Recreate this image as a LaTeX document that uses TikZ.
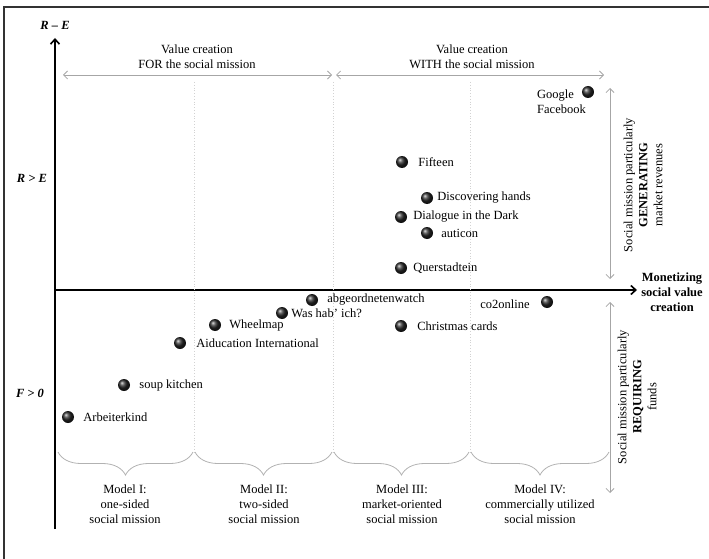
\documentclass[tikz,border=0pt]{standalone}
\usepackage{fontspec}
\setmainfont{Liberation Serif}
\usetikzlibrary{arrows.meta,positioning,decorations.pathreplacing}
\tikzset{
	firm/.style={
		circle,
		inner sep=0pt,
		minimum size=12pt,
		shading=ball,
		ball color=black!85,
	},
	firmlabel/.style={inner sep=0pt, text=black, font=\fontsize{12.5}{15}\selectfont},
	headtext/.style={align=center, inner sep=0pt, text=black, font=\fontsize{12.5}{15}\selectfont},
	mainaxis/.style={line width=1.6pt, -{Straight Barb[length=5pt,width=9pt,line width=1.6pt]}},
	rangearrow/.style={gray!70, line width=0.8pt, {Straight Barb[length=4pt,width=8pt]}-{Straight Barb[length=4pt,width=8pt]}},
	divider/.style={gray!35, dotted, line width=0.8pt},
	modelbrace/.style={decorate, decoration={brace, mirror, amplitude=23pt}, gray!60, line width=0.8pt},
}
\begin{document}
\begin{tikzpicture}[x=1pt,y=-1pt]
	\useasboundingbox (0,0) rectangle (709,559);
	
	% frame (only left and top edge are in the picture)
	\draw[black!80, line width=1.2pt] (4,559) -- (4,7) -- (709,7);
	
	% axes
	\coordinate (origin) at (55,290);
	\coordinate (ytop) at (55,38);
	\coordinate (ybot) at (55,529);
	\coordinate (xend) at (637,290);
	\draw[mainaxis] (ybot) -- (ytop);
	\draw[mainaxis] (origin) -- (xend);
	
	\node[headtext, font=\fontsize{12.5}{15}\selectfont\bfseries\itshape] (RE) at (55,25) {R – E};
	\node[headtext, font=\fontsize{12.5}{15}\selectfont\bfseries\itshape] (RgE) at (32,178) {R > E};
	\node[headtext, font=\fontsize{12.5}{15}\selectfont\bfseries\itshape] (Fg0) at (30,393) {F > 0};
	\node[headtext, font=\fontsize{12.5}{15}\selectfont\bfseries] (MON) at (672,292) {Monetizing\\social value\\creation};
	
	% dotted separators of the four models
	\foreach \x in {194,333,470}
		\draw[divider] (\x,82) -- (\x,452);
	
	% value creation FOR / WITH
	\coordinate (forL) at (63,75);
	\coordinate (forR) at (332,75);
	\coordinate (withL) at (336,75);
	\coordinate (withR) at (604,75);
	\draw[rangearrow] (forL) -- (forR);
	\draw[rangearrow] (withL) -- (withR);
	\node[headtext] (FOR) at (197,56.5) {Value creation\\FOR the social mission};
	\node[headtext] (WITH) at (472,56.5) {Value creation\\WITH the social mission};
	
	% generating / requiring
	\coordinate (genT) at (610,88);
	\coordinate (genB) at (610,279);
	\coordinate (reqT) at (610,302);
	\coordinate (reqB) at (610,493);
	\draw[rangearrow] (genT) -- (genB);
	\draw[rangearrow] (reqT) -- (reqB);
	\node[headtext, rotate=90] (GEN) at (643,185) {Social mission particularly\\\textbf{GENERATING}\\market revenues};
	\node[headtext, rotate=90] (REQ) at (637,397) {Social mission particularly\\\textbf{REQUIRING}\\funds};
	
	% braces and models
	\draw[modelbrace] (58,452) -- (193,452);
	\draw[modelbrace] (195,452) -- (332,452);
	\draw[modelbrace] (334,452) -- (469,452);
	\draw[modelbrace] (471,452) -- (609,452);
	\node[headtext] (M1) at (125,504) {Model I:\\one-sided\\social mission};
	\node[headtext] (M2) at (264,504) {Model II:\\two-sided\\social mission};
	\node[headtext] (M3) at (402,504) {Model III:\\market-oriented\\social mission};
	\node[headtext] (M4) at (540,504) {Model IV:\\commercially utilized\\social mission};
	
	% the firms
	\node[firm] (google) at (588,92) {};
	\node[firmlabel, align=left, anchor=west] (google-l) at (537,102) {Google\\Facebook};
	
	\node[firm] (fifteen) at (402,162) {};
	\node[firmlabel, right=10pt of fifteen] (fifteen-l) {Fifteen};
	\node[firm] (discover) at (427,198) {};
	\node[firmlabel, right=4pt of discover] (discover-l) {Discovering hands};
	\node[firm] (dialogue) at (401,217) {};
	\node[firmlabel, right=6pt of dialogue] (dialogue-l) {Dialogue in the Dark};
	\node[firm] (auticon) at (427,233) {};
	\node[firmlabel, right=8pt of auticon] (auticon-l) {auticon};
	\node[firm] (querstadtein) at (401,268) {};
	\node[firmlabel, right=6pt of querstadtein] (querstadtein-l) {Querstadtein};
	
	\node[firm] (co2online) at (547,302) {};
	\node[firmlabel, left=11pt of co2online, yshift=-2pt] (co2online-l) {co2online};
	\node[firm] (christmas) at (401,326) {};
	\node[firmlabel, right=10pt of christmas] (christmas-l) {Christmas cards};
	\node[firm] (abgeordnet) at (312,300) {};
	\node[firmlabel, right=9pt of abgeordnet] (abgeordnet-l) {abgeordnetenwatch};
	\node[firm] (washab) at (282,313) {};
	\node[firmlabel, right=3pt of washab] (washab-l) {Was hab’ ich?};
	\node[firm] (wheelmap) at (215,325) {};
	\node[firmlabel, right=8pt of wheelmap] (wheelmap-l) {Wheelmap};
	\node[firm] (aiducation) at (180,343) {};
	\node[firmlabel, right=10pt of aiducation] (aiducation-l) {Aiducation International};
	\node[firm] (soup) at (124,385) {};
	\node[firmlabel, right=9pt of soup] (soup-l) {soup kitchen};
	\node[firm] (arbeiterkind) at (68,417) {};
	\node[firmlabel, right=9pt of arbeiterkind] (arbeiterkind-l) {Arbeiterkind};
	
\end{tikzpicture}
\end{document}
